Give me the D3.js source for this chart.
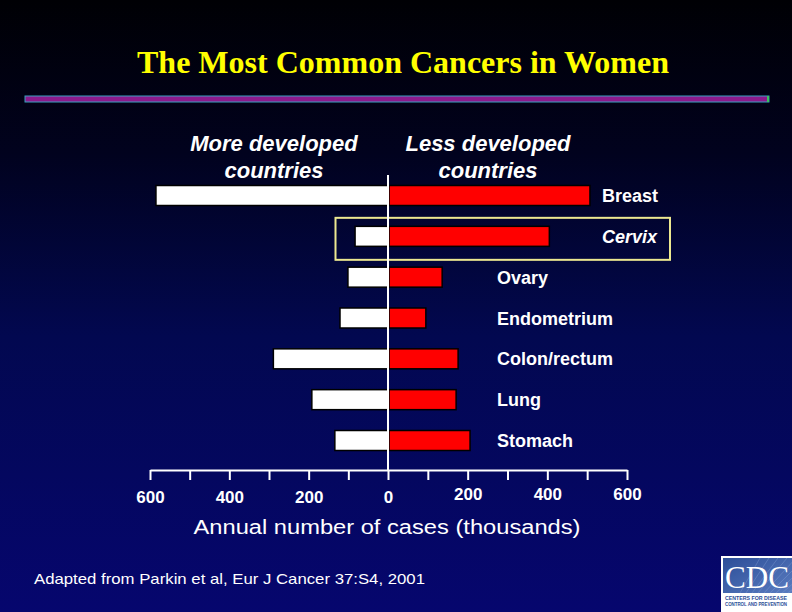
<!DOCTYPE html>
<html>
<head>
<meta charset="utf-8">
<script src="https://cdn.jsdelivr.net/npm/d3@7/dist/d3.min.js"></script>
<style>
  html, body { margin: 0; padding: 0; background: #000; }
  svg { display: block; }
</style>
</head>
<body>
<svg id="chart" width="792" height="612"></svg>
<script>
// ---------------- DATA ----------------
const categories = ["Breast", "Cervix", "Ovary", "Endometrium", "Colon/rectum", "Lung", "Stomach"];
const moreDeveloped = [585, 83, 101, 121, 289, 192, 134];   // thousands
const lessDeveloped = [507, 405, 136, 95, 176, 171, 206];   // thousands
const tickValues = [0, 100, 200, 300, 400, 500, 600];
const tickLabels = ["0", "", "200", "", "400", "", "600"];
const highlighted = "Cervix";

const title = "The Most Common Cancers in Women";
const headerLeft = ["More developed", "countries"];
const headerRight = ["Less developed", "countries"];
const axisTitle = "Annual number of cases (thousands)";
const footnote = "Adapted from Parkin et al, Eur J Cancer 37:S4, 2001";

// ---------------- LAYOUT ----------------
const svg = d3.select("#chart");
const W = 792, H = 612;
const x0 = 388;
const xLeft = d3.scaleLinear().domain([0, 600]).range([x0, 150]);
const xRight = d3.scaleLinear().domain([0, 600]).range([x0, 627]);
const y = d3.scalePoint().domain(categories).range([195.5, 440.5]);
const barH = 20;
const axisY = 470;

// background gradient
const defs = svg.append("defs");
const grad = defs.append("linearGradient").attr("id", "bg").attr("x1", 0).attr("y1", 0).attr("x2", 0).attr("y2", 1);
grad.append("stop").attr("offset", "0%").attr("stop-color", "#000004");
grad.append("stop").attr("offset", "25%").attr("stop-color", "#01021e");
grad.append("stop").attr("offset", "55%").attr("stop-color", "#020850");
grad.append("stop").attr("offset", "100%").attr("stop-color", "#06066e");
svg.append("rect").attr("width", W).attr("height", H).attr("fill", "url(#bg)");

// title
svg.append("text")
  .attr("x", 403).attr("y", 73)
  .attr("text-anchor", "middle")
  .attr("textLength", 532).attr("lengthAdjust", "spacingAndGlyphs")
  .style("font-family", "'Liberation Serif', 'Times New Roman', serif")
  .style("font-weight", "bold").style("font-size", "32px")
  .attr("fill", "#ffff00")
  .text(title);

// rule under title
svg.append("rect").attr("x", 25).attr("y", 96).attr("width", 744).attr("height", 6)
  .attr("fill", "#8c1a8c").attr("stroke", "#3aa0c0").attr("stroke-width", 1);
svg.append("rect").attr("x", 767).attr("y", 96).attr("width", 2).attr("height", 6).attr("fill", "#3cc060");

// headers
const hdrStyle = sel => sel
  .attr("text-anchor", "middle")
  .style("font-family", "'Liberation Sans', Arial, sans-serif")
  .style("font-weight", "bold").style("font-style", "italic")
  .style("font-size", "22px").attr("fill", "#ffffff");
headerLeft.forEach((t, i) => svg.append("text").attr("x", 274).attr("y", 151 + i * 27).call(hdrStyle).text(t));
headerRight.forEach((t, i) => svg.append("text").attr("x", 488).attr("y", 151 + i * 26.5).call(hdrStyle).text(t));

// bars
const g = svg.append("g");
g.selectAll("rect.more").data(categories).enter().append("rect")
  .attr("class", "more")
  .attr("x", (d, i) => xLeft(moreDeveloped[i]))
  .attr("y", d => y(d) - barH / 2)
  .attr("width", (d, i) => x0 - xLeft(moreDeveloped[i]))
  .attr("height", barH)
  .attr("fill", "#ffffff").attr("stroke", "#000000").attr("stroke-width", 1.5);

g.selectAll("rect.less").data(categories).enter().append("rect")
  .attr("class", "less")
  .attr("x", x0 + 1)
  .attr("y", d => y(d) - barH / 2)
  .attr("width", (d, i) => xRight(lessDeveloped[i]) - x0 - 1)
  .attr("height", barH)
  .attr("fill", "#ff0000").attr("stroke", "#000000").attr("stroke-width", 1.5);

// category labels
g.selectAll("text.cat").data(categories).enter().append("text")
  .attr("class", "cat")
  .attr("x", (d, i) => i < 2 ? 602 : 497)
  .attr("y", d => y(d) + 6.5)
  .style("font-family", "'Liberation Sans', Arial, sans-serif")
  .style("font-weight", "bold")
  .style("font-style", d => d === highlighted ? "italic" : "normal")
  .style("font-size", "18px")
  .attr("fill", "#ffffff")
  .text(d => d);

// highlight box
svg.append("rect")
  .attr("x", 335.5).attr("y", y(highlighted) - 18.5)
  .attr("width", 334.5).attr("height", 42)
  .attr("fill", "none").attr("stroke", "#ece890").attr("stroke-width", 2);

// center line
svg.append("line").attr("x1", x0).attr("x2", x0).attr("y1", 175).attr("y2", axisY)
  .attr("stroke", "#ffffff").attr("stroke-width", 2);

// axes
function styleAxis(sel) {
  sel.selectAll("path.domain").attr("stroke", "#ffffff").attr("stroke-width", 2);
  sel.selectAll(".tick line").attr("stroke", "#ffffff").attr("stroke-width", 2);
  sel.selectAll(".tick text")
    .attr("fill", "#ffffff")
    .attr("y", 21)
    .style("font-family", "'Liberation Sans Narrow', 'Arial Narrow', 'Liberation Sans', sans-serif")
    .style("font-weight", "bold").style("font-size", "17px");
}
const fmt = v => tickLabels[tickValues.indexOf(v)];
svg.append("g").attr("transform", `translate(0,${axisY})`)
  .call(d3.axisBottom(xLeft).tickValues(tickValues).tickFormat(fmt).tickSize(10).tickSizeOuter(0))
  .call(styleAxis);
svg.append("g").attr("transform", `translate(0,${axisY})`)
  .call(d3.axisBottom(xRight).tickValues(tickValues.slice(1)).tickFormat(fmt).tickSize(10).tickSizeOuter(0))
  .call(sel => { styleAxis(sel); sel.selectAll(".tick text").attr("y", 18); });

// axis title
svg.append("text")
  .attr("x", 387).attr("y", 534)
  .attr("text-anchor", "middle")
  .attr("textLength", 387).attr("lengthAdjust", "spacingAndGlyphs")
  .style("font-family", "'Liberation Sans', Arial, sans-serif")
  .style("font-size", "20px").attr("fill", "#ffffff")
  .text(axisTitle);

// footnote
svg.append("text")
  .attr("x", 34).attr("y", 584)
  .attr("textLength", 391).attr("lengthAdjust", "spacingAndGlyphs")
  .style("font-family", "'Liberation Sans', Arial, sans-serif")
  .style("font-size", "15px").attr("fill", "#ffffff")
  .text(footnote);

// CDC logo
const logo = svg.append("g");
logo.append("rect").attr("x", 721).attr("y", 556).attr("width", 71).attr("height", 56).attr("fill", "#ffffff");
const lg = defs.append("linearGradient").attr("id", "cdcbg").attr("x1", 0).attr("y1", 0).attr("x2", 1).attr("y2", 1);
lg.append("stop").attr("offset", "0%").attr("stop-color", "#2c4e98");
lg.append("stop").attr("offset", "100%").attr("stop-color", "#5a7cc0");
logo.append("rect").attr("x", 723).attr("y", 558).attr("width", 69).attr("height", 35).attr("fill", "url(#cdcbg)");
for (let k = 0; k < 9; k++) {
  logo.append("line").attr("x1", 740 + k * 6).attr("y1", 593).attr("x2", 760 + k * 9).attr("y2", 558)
    .attr("stroke", "#8aa4d8").attr("stroke-width", 0.6).attr("opacity", 0.6);
}
logo.append("text").attr("x", 757).attr("y", 588).attr("text-anchor", "middle")
  .style("font-family", "'Liberation Serif', 'Times New Roman', serif")
  .style("font-size", "32px").attr("fill", "#ffffff")
  .attr("textLength", 64).attr("lengthAdjust", "spacingAndGlyphs")
  .text("CDC");
logo.append("text").attr("x", 725).attr("y", 600)
  .style("font-family", "'Liberation Sans', Arial, sans-serif").style("font-size", "5px").style("font-weight", "bold")
  .attr("fill", "#2c4e98").attr("textLength", 62).attr("lengthAdjust", "spacingAndGlyphs")
  .text("CENTERS FOR DISEASE");
logo.append("text").attr("x", 725).attr("y", 606)
  .style("font-family", "'Liberation Sans', Arial, sans-serif").style("font-size", "5px").style("font-weight", "bold")
  .attr("fill", "#2c4e98").attr("textLength", 62).attr("lengthAdjust", "spacingAndGlyphs")
  .text("CONTROL AND PREVENTION");
</script>
</body>
</html>
